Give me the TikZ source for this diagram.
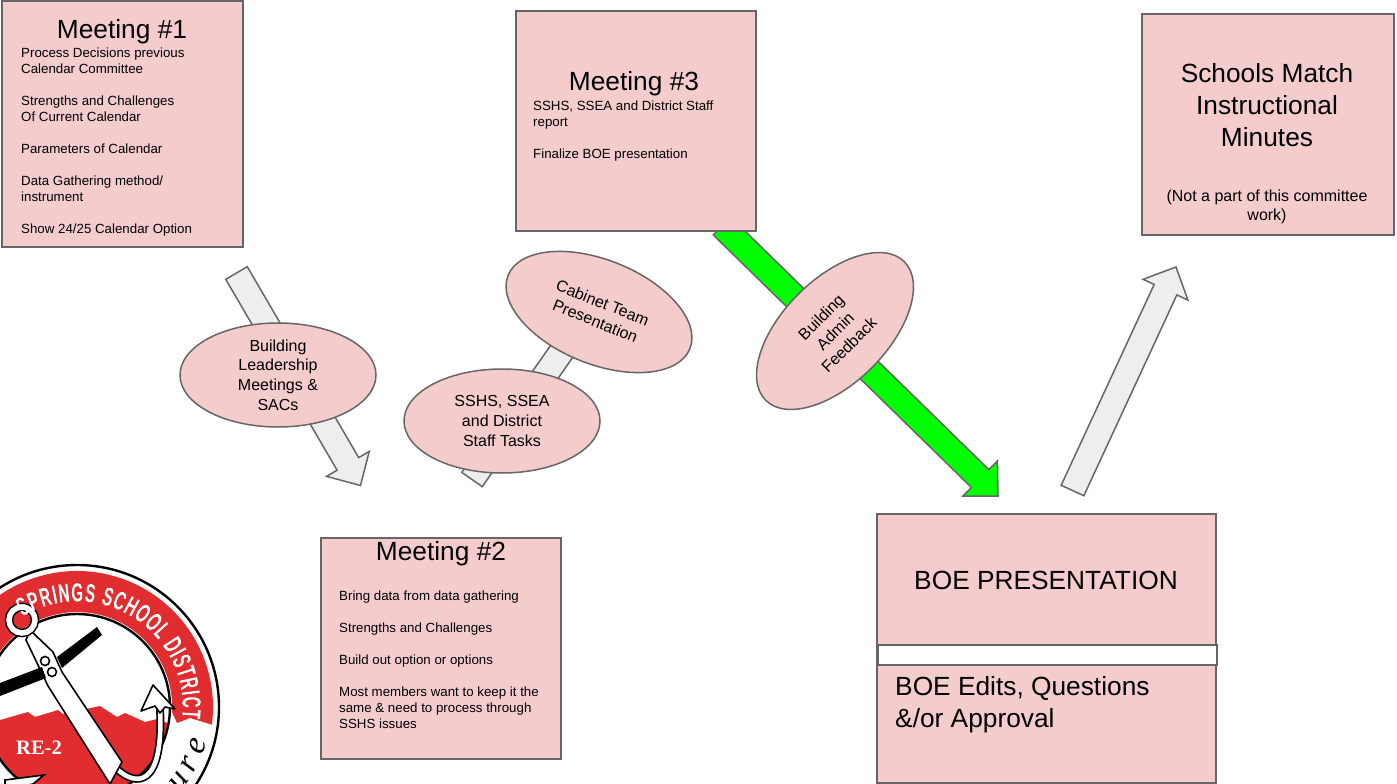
\documentclass[tikz,border=0pt]{standalone}
\usepackage{fontspec}
\setmainfont{Liberation Sans}
\newfontfamily\logofont[FakeStretch=0.58,FakeBold=3]{Liberation Sans}
\newfontfamily\logoserif{Liberation Serif}
\usetikzlibrary{calc,shapes.geometric,decorations.text}
\definecolor{boxpink}{HTML}{F4CCCC}
\definecolor{edgegray}{HTML}{666666}
\definecolor{arrowgray}{HTML}{EEEEEE}
\definecolor{arrowgreen}{HTML}{00FF00}
\definecolor{logored}{HTML}{E12D30}
\tikzset{
  panel/.style={draw=edgegray,line width=1.5pt,fill=boxpink,rectangle,anchor=north west,inner sep=0pt,outer sep=0pt},
  bubble/.style={draw=edgegray,line width=1.5pt,fill=boxpink,ellipse,inner sep=0pt,outer sep=0pt,minimum width=196pt,minimum height=104pt,align=center,font=\fontsize{16}{19.7}\selectfont},
  bigtext/.style={font=\fontsize{26.3}{32}\selectfont,inner sep=0pt},
  smalltext/.style={font=\fontsize{13.3}{16}\selectfont,anchor=north west,align=left,inner sep=0pt},
  barrow/.style={draw=edgegray,line width=1.5pt,fill=arrowgray,miter limit=10},
  garrow/.style={draw=edgegray,line width=1.5pt,fill=arrowgreen,miter limit=10},
  logoline/.style={draw=black,line width=1.6pt},
}
\newcommand{\blockarrow}[6]{%
  \coordinate (hb) at ($(#2)!#5pt!(#1)$);
  \draw[#6] ($(#1)!#3pt!90:(#2)$) -- ($(hb)!#3pt!90:(#2)$) -- ($(hb)!#4pt!90:(#2)$) -- (#2)
    -- ($(hb)!#4pt!-90:(#2)$) -- ($(hb)!#3pt!-90:(#2)$) -- ($(#1)!#3pt!-90:(#2)$) -- cycle;}
\begin{document}
\begin{tikzpicture}[x=1pt,y=-1pt]
\useasboundingbox (0,0) rectangle (1397,784);
% ---------- logo
\begin{scope}
\clip (0,0) rectangle (1397,784);
\coordinate (lc) at (77,707);
\fill[white,draw=black,line width=2.4pt] (lc) circle[radius=142];
\fill[logored] (213,725) -- (190,718) -- (177,723) -- (172,712)
  arc[start angle=3,end angle=-200,radius=95] -- ($(lc)+(-200:136)$)
  arc[start angle=-200,end angle=7.5,radius=136] -- cycle;
\begin{scope}
\clip (lc) circle[radius=92];
\fill[white] (lc) circle[radius=92];
\fill[logored] (0,720) -- (28,712) -- (35,717) -- (58,710) -- (63,714) -- (100,706) -- (117,717) -- (125,713) -- (145,722) -- (157,719) -- (170,724) -- (170,800) -- (0,800) -- cycle;
\end{scope}
\draw[black,line width=2.4pt] (lc) circle[radius=93];
% anchor hook
\draw[black,line width=8pt,line cap=round] (118,770) .. controls (135,785) and (164,790) .. (160,708);
\draw[white,line width=4.6pt,line cap=round] (118,770) .. controls (135,785) and (164,790) .. (160,708);
\draw[logoline,fill=white,line join=round] (153,685) -- (175,709) -- (165,707) -- (160,713) -- (155,706) -- (141,711) -- cycle;
% anchor shaft
\draw[logoline,fill=white] (30,630) -- (53,652) -- (62,672) -- (122,762) -- (110,784) -- (48,686) -- (38,665) -- (26,640) -- cycle;
% cross bar
\fill[black] (0,683) -- (42,667) -- (46,678) -- (0,696) -- cycle;
\fill[black] (57,657) -- (97,627) -- (102,635) -- (62,668) -- cycle;
\draw[logoline,fill=white] (45,661) circle[radius=4.5];
\draw[logoline,fill=white] (52,672) circle[radius=4.5];
% ring
\draw[black,line width=8.5pt] (22,620) circle[radius=13];
\draw[white,line width=5.5pt] (22,620) circle[radius=13];
% fluke
\draw[logoline,fill=white] (5,780) -- (44,775) -- (33,784) -- (5,790) -- cycle;
\node[text=white,inner sep=0pt,font=\logoserif\bfseries\fontsize{20.5}{20}\selectfont] (re2) at (39,748) {RE-2};
% curved lettering
\begin{scope}[shift={(77,707)},x=1pt,y=1pt]
\path[decorate,decoration={text along path,text align={fit to path},
   text={|\logofont\fontsize{25}{25}\selectfont\color{white}|SPRINGS SCHOOL DISTRICT}}]
   (121:106) arc[start angle=121,end angle=-6,radius=106];
\path[decorate,decoration={text along path,text align={fit to path},
   text={|\logoserif\itshape\fontsize{33}{33}\selectfont\color{black}|ture}}]
   (-46:134) arc[start angle=-46,end angle=-15,radius=134];
\end{scope}
\end{scope}
% ---------- connectors
\coordinate (a1t) at (236.5,273); \coordinate (a1h) at (360.5,485.5);
\coordinate (a2t) at (472,479.5); \coordinate (a2h) at (606,288);
\coordinate (a3t) at (722,226); \coordinate (a3h) at (998,496);
\coordinate (a4t) at (1072.5,490.5); \coordinate (a4h) at (1176,267);
\blockarrow{a1t}{a1h}{12.5}{24.7}{25}{barrow}
\blockarrow{a2t}{a2h}{12.5}{24.7}{25}{barrow}
\blockarrow{a3t}{a3h}{12.5}{24.7}{25}{garrow}
\blockarrow{a4t}{a4h}{12.5}{24.7}{25}{barrow}
% ---------- panels
\node[panel,minimum width=241pt,minimum height=246pt] (m1) at (2,1) {};
\node[panel,minimum width=240pt,minimum height=220pt] (m3) at (516,11) {};
\node[panel,minimum width=252pt,minimum height=221pt] (sm) at (1142,14) {};
\node[panel,minimum width=240pt,minimum height=221pt] (m2) at (321,538) {};
\node[panel,minimum width=339pt,minimum height=269pt] (boe) at (877,514) {};
\node[panel,fill=white,minimum width=339pt,minimum height=20pt] (bar) at (878,645) {};
% ---------- text
\node[bigtext] (m1t) at (122,32) {Meeting \#1};
\node[smalltext] (m1b) at (21,47.5) {Process Decisions previous\\Calendar Committee\\[16pt]Strengths and Challenges\\Of Current Calendar\\[16pt]Parameters of Calendar\\[16pt]Data Gathering method/\\instrument\\[16pt]Show 24/25 Calendar Option};
\node[bigtext] (m3t) at (634,84) {Meeting \#3};
\node[smalltext] (m3b) at (533,100.5) {SSHS, SSEA and District Staff\\report\\[16pt]Finalize BOE presentation};
\node[bigtext] (m2t) at (441,554) {Meeting \#2};
\node[smalltext] (m2b) at (339,590.5) {Bring data from data gathering\\[16pt]Strengths and Challenges\\[16pt]Build out option or options\\[16pt]Most members want to keep it the\\same \& need to process through\\SSHS issues};
\node[bigtext,align=center] (smt) at (1267,105) {Schools Match\\Instructional\\Minutes};
\node[align=center,inner sep=0pt,font=\fontsize{16}{19}\selectfont] (smb) at (1267,206.5) {(Not a part of this committee\\work)};
\node[bigtext] (boet) at (1046,580) {BOE PRESENTATION};
\node[bigtext,anchor=north west,align=left] (boeb) at (895,676) {BOE Edits, Questions\\\&/or Approval};
% ---------- bubbles
\node[bubble] (e1) at (278,375) {Building\\Leadership\\Meetings \&\\SACs};
\node[bubble] (e2) at (502,421) {SSHS, SSEA\\and District\\Staff Tasks};
\node[bubble,rotate=-22] (e3) at (599,312) {Cabinet Team\\Presentation};
\node[bubble,rotate=45] (e4) at (835,331) {Building\\Admin\\Feedback};
\end{tikzpicture}
\end{document}
